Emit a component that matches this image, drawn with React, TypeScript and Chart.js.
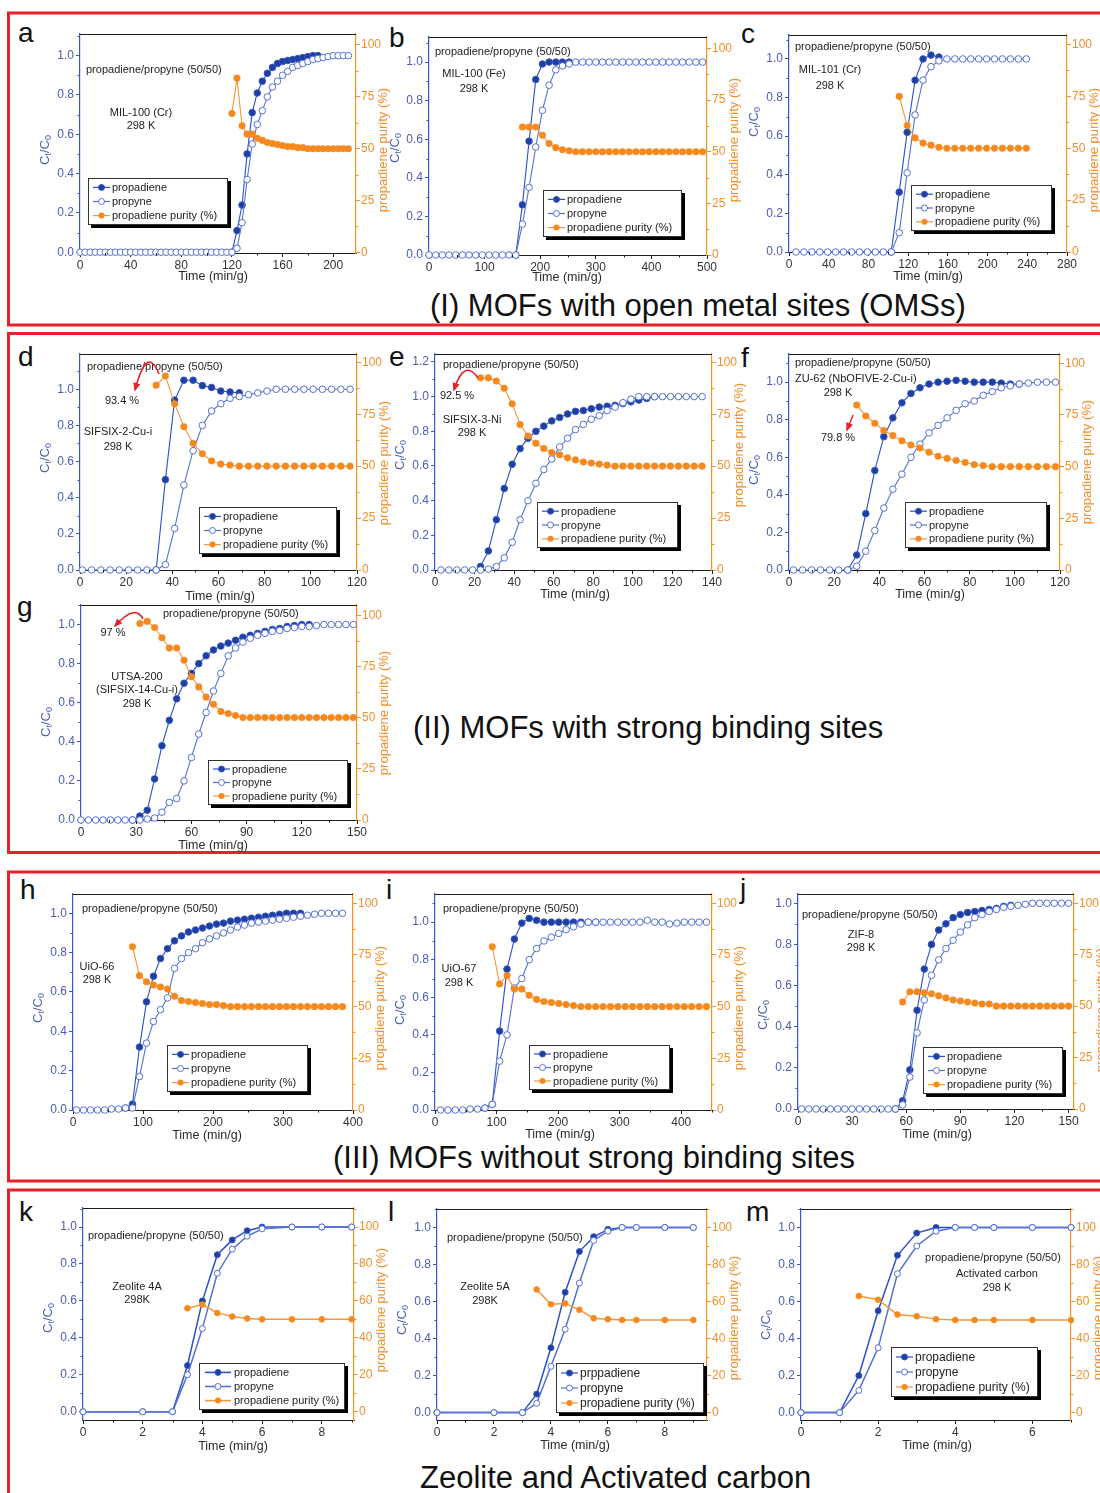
import React, { useEffect, useRef } from "react";
import { Chart, registerables } from "chart.js";

Chart.register(...registerables);

const FONT = "'Liberation Sans', Arial, Helvetica, sans-serif";

// ---------- tick labels ----------
const fracTicks = [0, 0.2, 0.4, 0.6, 0.8, 1.0];
const fracTicksWide = [0, 0.2, 0.4, 0.6, 0.8, 1.0, 1.2];
const purityTicks = [0, 25, 50, 75, 100];
const purityTicksZeolite = [0, 20, 40, 60, 80, 100];
const aXTicks = [0, 40, 80, 120, 160, 200];
const bXTicks = [0, 100, 200, 300, 400, 500];
const cXTicks = [0, 40, 80, 120, 160, 200, 240, 280];
const dXTicks = [0, 20, 40, 60, 80, 100, 120];
const eXTicks = [0, 20, 40, 60, 80, 100, 120, 140];
const fXTicks = [0, 20, 40, 60, 80, 100, 120];
const gXTicks = [0, 30, 60, 90, 120, 150];
const hXTicks = [0, 100, 200, 300, 400];
const iXTicks = [0, 100, 200, 300, 400];
const jXTicks = [0, 30, 60, 90, 120, 150];
const kXTicks = [0, 2, 4, 6, 8];
const lXTicks = [0, 2, 4, 6, 8];
const mXTicks = [0, 2, 4, 6];

const seriesNames = ["propadiene", "propyne", "propadiene purity (%)"];
const seriesNamesZeolite5A = ["prppadiene", "propyne", "propadiene purity (%)"];

// ---------- (a) MIL-100 (Cr) ----------
const aTime = [0, 4, 8, 12, 16, 20, 24, 28, 32, 36, 40, 44, 48, 52, 56, 60, 64, 68, 72, 76, 80, 84, 88, 92, 96, 100, 104, 108, 112, 116, 120, 124, 128, 132, 136, 140, 144, 148, 152, 156, 160, 164, 168, 172, 176, 180, 184, 188, 192, 196, 200, 204, 208, 212];
const aPropyne = [0, 0, 0, 0, 0, 0, 0, 0, 0, 0, 0, 0, 0, 0, 0, 0, 0, 0, 0, 0, 0, 0, 0, 0, 0, 0, 0, 0, 0, 0, 0, 0.02, 0.15, 0.37, 0.55, 0.65, 0.72, 0.79, 0.84, 0.87, 0.9, 0.92, 0.94, 0.95, 0.96, 0.97, 0.98, 0.985, 0.99, 0.995, 1.0, 1.0, 1.0, 1.0];
const aPropadieneTime = [120, 124, 128, 132, 136, 140, 144, 148, 152, 156, 160, 164, 168, 172, 176, 180, 184, 188];
const aPropadiene = [0, 0.11, 0.24, 0.5, 0.71, 0.81, 0.87, 0.91, 0.94, 0.96, 0.97, 0.975, 0.98, 0.985, 0.99, 0.995, 1.0, 1.0];
const aPurityTime = [120, 124, 128, 132, 136, 140, 144, 148, 152, 156, 160, 164, 168, 172, 176, 180, 184, 188, 192, 196, 200, 204, 208, 212];
const aPurity = [67, 84, 61, 57, 57, 55, 54, 53, 52.5, 52, 51.5, 51, 51, 50.5, 50.5, 50, 50, 50, 50, 50, 50, 50, 50, 50];

// ---------- (b) MIL-100 (Fe) ----------
const bTime = [0, 12, 24, 36, 48, 60, 72, 84, 96, 108, 120, 132, 144, 156, 168, 180, 192, 204, 216, 228, 240, 252, 264, 276, 288, 300, 312, 324, 336, 348, 360, 372, 384, 396, 408, 420, 432, 444, 456, 468, 480, 492];
const bPropyne = [0, 0, 0, 0, 0, 0, 0, 0, 0, 0, 0, 0, 0, 0, 0.16, 0.35, 0.56, 0.75, 0.88, 0.96, 0.98, 0.99, 1, 1, 1, 1, 1, 1, 1, 1, 1, 1, 1, 1, 1, 1, 1, 1, 1, 1, 1, 1];
const bPropadieneTime = [156, 168, 180, 192, 204, 216, 228, 240, 252];
const bPropadiene = [0, 0.26, 0.59, 0.91, 0.99, 1.0, 1.0, 1.0, 1.0];
const bPurityTime = [168, 180, 192, 204, 216, 228, 240, 252, 264, 276, 288, 300, 312, 324, 336, 348, 360, 372, 384, 396, 408, 420, 432, 444, 456, 468, 480, 492];
const bPurity = [62, 62, 62, 58, 54, 52, 51, 50.5, 50, 50, 50, 50, 50, 50, 50, 50, 50, 50, 50, 50, 50, 50, 50, 50, 50, 50, 50, 50];

// ---------- (c) MIL-101 (Cr) ----------
const cTime = [7, 15, 23, 31, 39, 47, 55, 63, 71, 79, 87, 95, 103, 111, 119, 127, 135, 143, 151, 159, 167, 175, 183, 191, 199, 207, 215, 223, 231, 239];
const cPropyne = [0, 0, 0, 0, 0, 0, 0, 0, 0, 0, 0, 0, 0, 0.1, 0.41, 0.71, 0.89, 0.96, 0.99, 1, 1, 1, 1, 1, 1, 1, 1, 1, 1, 1];
const cPropadieneTime = [103, 111, 119, 127, 135, 143, 151];
const cPropadiene = [0, 0.31, 0.62, 0.89, 1.0, 1.02, 1.01];
const cPurityTime = [111, 119, 127, 135, 143, 151, 159, 167, 175, 183, 191, 199, 207, 215, 223, 231, 239];
const cPurity = [75, 61, 55, 52.5, 51.5, 50.5, 50, 50, 50, 50, 50, 50, 50, 50, 50, 50, 50];

// ---------- (d) SIFSIX-2-Cu-i ----------
const dTime = [1, 5, 9, 13, 17, 21, 25, 29, 33, 37, 41, 45, 49, 53, 57, 61, 65, 69, 73, 77, 81, 85, 89, 93, 97, 101, 105, 109, 113, 117];
const dPropyne = [0, 0, 0, 0, 0, 0, 0, 0, 0, 0.03, 0.23, 0.47, 0.66, 0.8, 0.88, 0.92, 0.95, 0.96, 0.97, 0.98, 0.99, 1, 1, 1, 1, 1, 1, 1, 1, 1];
const dPropadieneTime = [33, 37, 41, 45, 49, 53, 57, 61, 65, 69];
const dPropadiene = [0, 0.5, 0.94, 1.05, 1.05, 1.02, 1.01, 0.99, 0.985, 0.98];
const dPurityTime = [33, 37, 41, 45, 49, 53, 57, 61, 65, 69, 73, 77, 81, 85, 89, 93, 97, 101, 105, 109, 113, 117];
const dPurity = [89, 93.4, 80, 69, 61, 56, 52.5, 51, 50.5, 50, 50, 50, 50, 50, 50, 50, 50, 50, 50, 50, 50, 50];

// ---------- (e) SIFSIX-3-Ni ----------
const eTime = [3, 7, 11, 15, 19, 23, 27, 31, 35, 39, 43, 47, 51, 55, 59, 63, 67, 71, 75, 79, 83, 87, 91, 95, 99, 103, 107, 111, 115, 119, 123, 127, 131, 135];
const ePropyne = [0, 0, 0, 0, 0, 0, 0.005, 0.02, 0.07, 0.16, 0.29, 0.4, 0.5, 0.58, 0.64, 0.71, 0.76, 0.81, 0.84, 0.87, 0.89, 0.92, 0.94, 0.965, 0.985, 1, 1, 1, 1, 1, 1, 1, 1, 1];
const ePropadieneTime = [23, 27, 31, 35, 39, 43, 47, 51, 55, 59, 63, 67, 71, 75, 79, 83, 87, 91, 95, 99, 103, 107, 111];
const ePropadiene = [0.02, 0.11, 0.29, 0.47, 0.61, 0.7, 0.76, 0.8, 0.83, 0.86, 0.88, 0.9, 0.915, 0.92, 0.93, 0.94, 0.945, 0.95, 0.96, 0.97, 0.98, 0.99, 1.0];
const ePurityTime = [23, 27, 31, 35, 39, 43, 47, 51, 55, 59, 63, 67, 71, 75, 79, 83, 87, 91, 95, 99, 103, 107, 111, 115, 119, 123, 127, 131, 135];
const ePurity = [92.5, 92.5, 91, 87.5, 80, 70, 64.5, 61, 58.5, 56.5, 55.5, 54, 53, 52, 51.5, 51, 50.5, 50, 50, 50, 50, 50, 50, 50, 50, 50, 50, 50, 50];

// ---------- (f) ZU-62 ----------
const fTime = [2, 6, 10, 14, 18, 22, 26, 30, 34, 38, 42, 46, 50, 54, 58, 62, 66, 70, 74, 78, 82, 86, 90, 94, 98, 102, 106, 110, 114, 118];
const fPropyne = [0, 0, 0, 0, 0, 0, 0, 0.02, 0.1, 0.21, 0.33, 0.43, 0.51, 0.6, 0.67, 0.73, 0.77, 0.81, 0.85, 0.885, 0.9, 0.93, 0.95, 0.97, 0.98, 0.99, 0.995, 1, 1, 1];
const fPropadieneTime = [26, 30, 34, 38, 42, 46, 50, 54, 58, 62, 66, 70, 74, 78, 82, 86, 90, 94, 98, 102];
const fPropadiene = [0, 0.08, 0.3, 0.53, 0.71, 0.81, 0.89, 0.94, 0.97, 0.99, 1.0, 1.005, 1.01, 1.005, 1.0, 1.0, 1.0, 0.995, 0.99, 0.99];
const fPurityTime = [30, 34, 38, 42, 46, 50, 54, 58, 62, 66, 70, 74, 78, 82, 86, 90, 94, 98, 102, 106, 110, 114, 118];
const fPurity = [79.8, 74.5, 71, 67.5, 65, 62.5, 60.5, 59, 57, 55, 54, 53, 52, 51, 50.5, 50, 50, 50, 50, 50, 50, 50, 50];

// ---------- (g) UTSA-200 ----------
const gTime = [0, 4, 8, 12, 16, 20, 24, 28, 32, 36, 40, 44, 48, 52, 56, 60, 64, 68, 72, 76, 80, 84, 88, 92, 96, 100, 104, 108, 112, 116, 120, 124, 128, 132, 136, 140, 144, 148];
const gPropyne = [0, 0, 0, 0, 0, 0, 0, 0, 0, 0.005, 0.01, 0.04, 0.09, 0.11, 0.2, 0.32, 0.44, 0.55, 0.66, 0.75, 0.84, 0.88, 0.91, 0.93, 0.945, 0.955, 0.965, 0.97, 0.98, 0.985, 0.99, 0.99, 0.995, 1, 1, 1, 1, 1];
const gPropadieneTime = [28, 32, 36, 40, 44, 48, 52, 56, 60, 64, 68, 72, 76, 80, 84, 88, 92, 96, 100, 104, 108, 112, 116, 120, 124];
const gPropadiene = [0, 0.02, 0.05, 0.21, 0.38, 0.51, 0.62, 0.7, 0.75, 0.8, 0.84, 0.87, 0.89, 0.905, 0.92, 0.935, 0.945, 0.955, 0.965, 0.975, 0.98, 0.99, 0.995, 1.0, 1.0];
const gPurityTime = [32, 36, 40, 44, 48, 52, 56, 60, 64, 68, 72, 76, 80, 84, 88, 92, 96, 100, 104, 108, 112, 116, 120, 124, 128, 132, 136, 140, 144, 148];
const gPurity = [96, 97, 94, 89, 84, 84, 78, 70, 65, 60, 56.5, 53, 52, 51, 50, 50, 50, 50, 50, 50, 50, 50, 50, 50, 50, 50, 50, 50, 50, 50];

// ---------- (h) UiO-66 ----------
const hTime = [5, 15, 25, 35, 45, 55, 65, 75, 85, 95, 105, 115, 125, 135, 145, 155, 165, 175, 185, 195, 205, 215, 225, 235, 245, 255, 265, 275, 285, 295, 305, 315, 325, 335, 345, 355, 365, 375, 385];
const hPropyne = [0, 0, 0, 0, 0, 0.005, 0.005, 0.01, 0.01, 0.17, 0.34, 0.45, 0.51, 0.57, 0.72, 0.77, 0.8, 0.82, 0.85, 0.87, 0.885, 0.9, 0.915, 0.93, 0.94, 0.95, 0.955, 0.96, 0.965, 0.97, 0.975, 0.98, 0.985, 0.99, 0.995, 1, 1, 1, 1];
const hPropadieneTime = [75, 85, 95, 105, 115, 125, 135, 145, 155, 165, 175, 185, 195, 205, 215, 225, 235, 245, 255, 265, 275, 285, 295, 305, 315, 325];
const hPropadiene = [0.01, 0.03, 0.32, 0.55, 0.68, 0.77, 0.82, 0.86, 0.885, 0.905, 0.915, 0.925, 0.935, 0.945, 0.95, 0.96, 0.965, 0.97, 0.975, 0.98, 0.985, 0.99, 0.995, 1.0, 1.0, 1.0];
const hPurityTime = [85, 95, 105, 115, 125, 135, 145, 155, 165, 175, 185, 195, 205, 215, 225, 235, 245, 255, 265, 275, 285, 295, 305, 315, 325, 335, 345, 355, 365, 375, 385];
const hPurity = [79, 65, 62, 60.5, 59.5, 58.5, 55, 53, 52.5, 52, 51.5, 51, 51, 50.5, 50, 50, 50, 50, 50, 50, 50, 50, 50, 50, 50, 50, 50, 50, 50, 50, 50];

// ---------- (i) UiO-67 ----------
const iTime = [9, 21, 33, 45, 57, 69, 81, 93, 105, 117, 129, 141, 153, 165, 177, 189, 201, 213, 225, 237, 249, 261, 273, 285, 297, 309, 321, 333, 345, 357, 369, 381, 393, 405, 417, 429, 441];
const iPropyne = [0, 0, 0, 0, 0.005, 0.005, 0.01, 0.03, 0.26, 0.4, 0.65, 0.7, 0.8, 0.86, 0.9, 0.92, 0.94, 0.96, 0.975, 0.99, 1, 1, 1, 1, 1, 1, 1, 1, 1.01, 1, 1, 0.99, 0.995, 1, 1, 1, 1];
const iPropadieneTime = [81, 93, 105, 117, 129, 141, 153, 165, 177, 189, 201, 213, 225, 237, 249, 261];
const iPropadiene = [0.01, 0.03, 0.42, 0.75, 0.91, 0.995, 1.02, 1.01, 1.0, 1.0, 1.0, 1.0, 1.0, 1.0, 1.0, 1.0];
const iPurityTime = [93, 105, 117, 129, 141, 153, 165, 177, 189, 201, 213, 225, 237, 249, 261, 273, 285, 297, 309, 321, 333, 345, 357, 369, 381, 393, 405, 417, 429, 441];
const iPurity = [79, 61, 65, 58.5, 58.5, 55.5, 53.5, 52.5, 52, 51.5, 51, 50.5, 50, 50, 50, 50, 50, 50, 50, 50, 50, 50, 50, 50, 50, 50, 50, 50, 50, 50];

// ---------- (j) ZIF-8 ----------
const jTime = [2, 6, 10, 14, 18, 22, 26, 30, 34, 38, 42, 46, 50, 54, 58, 62, 66, 70, 74, 78, 82, 86, 90, 94, 98, 102, 106, 110, 114, 118, 122, 126, 130, 134, 138, 142, 146, 150];
const jPropyne = [0, 0, 0, 0, 0, 0, 0, 0, 0, 0, 0, 0, 0, 0, 0.02, 0.155, 0.37, 0.53, 0.65, 0.725, 0.78, 0.82, 0.86, 0.895, 0.93, 0.945, 0.96, 0.97, 0.98, 0.985, 0.99, 0.995, 1, 1, 1, 1, 1, 1];
const jPropadieneTime = [54, 58, 62, 66, 70, 74, 78, 82, 86, 90, 94, 98, 102, 106, 110, 114, 118];
const jPropadiene = [0, 0.04, 0.19, 0.48, 0.68, 0.8, 0.87, 0.9, 0.93, 0.945, 0.955, 0.96, 0.965, 0.97, 0.975, 0.985, 0.99];
const jPurityTime = [58, 62, 66, 70, 74, 78, 82, 86, 90, 94, 98, 102, 106, 110, 114, 118, 122, 126, 130, 134, 138, 142, 146, 150];
const jPurity = [52, 57, 57, 56.5, 56, 55, 54, 53, 52.5, 52, 51.5, 51, 51, 50, 50, 50, 50, 50, 50, 50, 50, 50, 50, 50];

// ---------- (k) Zeolite 4A ----------
const kTime = [0, 2, 3, 3.5, 4, 4.5, 5, 5.5, 6, 7, 8, 9];
const kPropadiene = [0, 0, 0, 0.25, 0.6, 0.85, 0.93, 0.98, 1.0, 1.0, 1.0, 1.0];
const kPropyne = [0, 0, 0, 0.2, 0.45, 0.75, 0.88, 0.95, 0.99, 1.0, 1.0, 1.0];
const kPurityTime = [3.5, 4, 4.5, 5, 5.5, 6, 7, 8, 9];
const kPurity = [56, 58, 53.5, 51.5, 50.5, 50, 50, 50, 50];

// ---------- (l) Zeolite 5A ----------
const lTime = [0, 2, 3, 3.5, 4, 4.5, 5, 5.5, 6, 6.5, 7, 8, 9];
const lPropadiene = [0, 0, 0, 0.1, 0.35, 0.65, 0.87, 0.95, 0.99, 1.0, 1.0, 1.0, 1.0];
const lPropyne = [0, 0, 0, 0.05, 0.25, 0.45, 0.7, 0.93, 0.98, 1.0, 1.0, 1.0, 1.0];
const lPurityTime = [3.5, 4, 4.5, 5, 5.5, 6, 6.5, 7, 8, 9];
const lPurity = [66.5, 58.5, 59, 55.5, 51, 50.5, 50, 50, 50, 50];

// ---------- (m) Activated carbon ----------
const mTime = [0, 1, 1.5, 2, 2.5, 3, 3.5, 4, 4.5, 5, 6, 7];
const mPropadiene = [0, 0, 0.2, 0.55, 0.85, 0.97, 1.0, 1.0, 1.0, 1.0, 1.0, 1.0];
const mPropyne = [0, 0, 0.12, 0.35, 0.75, 0.9, 0.98, 1.0, 1.0, 1.0, 1.0, 1.0];
const mPurityTime = [1.5, 2, 2.5, 3, 3.5, 4, 4.5, 5, 6, 7];
const mPurity = [63, 61, 53, 52, 50.5, 50, 50, 50, 50, 50];

// ---------- colours ----------
const PD_LINE = "#2a50cc";
const PD_FILL = "#203e9e";
const PD_EDGE = "#3558c8";
const PY_LINE = "#5571d4";
const OR_FILL = "#f5891e";
const OR_LINE = "#f3963a";
const AXIS_BLUE = "#3457d0";
const TICK_BLUE = "#4b5db2";
const AXIS_ORANGE = "#f6921e";
const TICK_ORANGE = "#f08f2c";
const AXIS_DARK = "#1e1e1e";
const RED = "#e4222b";

type Note = [string, number, number, "left" | "center"];

type Spec = {
  id: string;
  plot: number[];
  xr: number[];
  yl: number[];
  yr: number[];
  xTicks: number[];
  ylTicks: number[];
  yrTicks: number[];
  time: number[];
  propyne: number[];
  pdTime: number[];
  propadiene: number[];
  puTime: number[];
  purity: number[];
  notes: Note[];
  legend: number[];
  legendNames: string[];
  legendFont?: number;
  zeolite?: boolean;
  leftTitle: number[];
  rightTitleY: number;
  xTitle: number[];
  arrow?: number[];
  straightArrow?: number[];
};

const MIX = "propadiene/propyne (50/50)";

const panels: Spec[] = [
  {
    id: "a", plot: [80, 34, 356, 253], xr: [0, 218], yl: [-0.004, 1.11], yr: [-0.3, 105.3],
    xTicks: aXTicks, ylTicks: fracTicks, yrTicks: purityTicks,
    time: aTime, propyne: aPropyne, pdTime: aPropadieneTime, propadiene: aPropadiene, puTime: aPurityTime, purity: aPurity,
    notes: [[MIX, 86, 70, "left"], ["MIL-100 (Cr)", 141, 113, "center"], ["298 K", 141, 126, "center"]],
    legend: [88, 178, 140, 47], legendNames: seriesNames,
    leftTitle: [45, 150], rightTitleY: 150, xTitle: [213, 277],
  },
  {
    id: "b", plot: [429, 37, 707, 255], xr: [0, 500], yl: [0, 1.13], yr: [0, 105.6],
    xTicks: bXTicks, ylTicks: fracTicks, yrTicks: purityTicks,
    time: bTime, propyne: bPropyne, pdTime: bPropadieneTime, propadiene: bPropadiene, puTime: bPurityTime, purity: bPurity,
    notes: [[MIX, 435, 52, "left"], ["MIL-100 (Fe)", 474, 74, "center"], ["298 K", 474, 89, "center"]],
    legend: [543, 190, 139, 47], legendNames: seriesNames,
    leftTitle: [395, 148], rightTitleY: 140, xTitle: [567, 278],
  },
  {
    id: "c", plot: [789, 35, 1067, 252], xr: [0, 280], yl: [0, 1.124], yr: [0, 104.6],
    xTicks: cXTicks, ylTicks: fracTicks, yrTicks: purityTicks,
    time: cTime, propyne: cPropyne, pdTime: cPropadieneTime, propadiene: cPropadiene, puTime: cPurityTime, purity: cPurity,
    notes: [[MIX, 795, 47, "left"], ["MIL-101 (Cr)", 830, 70, "center"], ["298 K", 830, 86, "center"]],
    legend: [911, 185, 141, 46], legendNames: seriesNames,
    leftTitle: [754, 122], rightTitleY: 150, xTitle: [928, 277],
  },
  {
    id: "d", plot: [80, 354, 357, 570], xr: [0, 120], yl: [0, 1.195], yr: [0, 104],
    xTicks: dXTicks, ylTicks: fracTicks, yrTicks: purityTicks,
    time: dTime, propyne: dPropyne, pdTime: dPropadieneTime, propadiene: dPropadiene, puTime: dPurityTime, purity: dPurity,
    notes: [[MIX, 87, 367, "left"], ["93.4 %", 122, 401, "center"], ["SIFSIX-2-Cu-i", 118, 432, "center"], ["298 K", 118, 447, "center"]],
    legend: [199, 507, 138, 47], legendNames: seriesNames,
    leftTitle: [45, 458], rightTitleY: 463, xTitle: [220, 597],
    arrow: [159, 374, 147, 363, 135, 390],
  },
  {
    id: "e", plot: [435, 354, 712, 570], xr: [0, 140], yl: [0, 1.246], yr: [0, 104],
    xTicks: eXTicks, ylTicks: fracTicksWide, yrTicks: purityTicks,
    time: eTime, propyne: ePropyne, pdTime: ePropadieneTime, propadiene: ePropadiene, puTime: ePurityTime, purity: ePurity,
    notes: [[MIX, 443, 365, "left"], ["92.5 %", 457, 396, "center"], ["SIFSIX-3-Ni", 472, 420, "center"], ["298 K", 472, 433, "center"]],
    legend: [537, 502, 141, 46], legendNames: seriesNames,
    leftTitle: [400, 455], rightTitleY: 445, xTitle: [575, 595],
    arrow: [478, 378, 465, 371, 454, 390],
  },
  {
    id: "f", plot: [789, 354, 1060, 570], xr: [0, 120], yl: [0, 1.15], yr: [0, 104.5],
    xTicks: fXTicks, ylTicks: fracTicks, yrTicks: purityTicks,
    time: fTime, propyne: fPropyne, pdTime: fPropadieneTime, propadiene: fPropadiene, puTime: fPurityTime, purity: fPurity,
    notes: [[MIX, 795, 363, "left"], ["ZU-62 (NbOFIVE-2-Cu-i)", 795, 379, "left"], ["298 K", 838, 393, "center"], ["79.8 %", 838, 438, "center"]],
    legend: [905, 502, 142, 46], legendNames: seriesNames,
    leftTitle: [754, 470], rightTitleY: 462, xTitle: [930, 595],
    straightArrow: [853, 415, 847, 430],
  },
  {
    id: "g", plot: [81, 605, 357, 820], xr: [0, 150], yl: [0, 1.1], yr: [0, 105],
    xTicks: gXTicks, ylTicks: fracTicks, yrTicks: purityTicks,
    time: gTime, propyne: gPropyne, pdTime: gPropadieneTime, propadiene: gPropadiene, puTime: gPurityTime, purity: gPurity,
    notes: [[MIX, 163, 614, "left"], ["97 %", 113, 633, "center"], ["UTSA-200", 137, 677, "center"], ["(SIFSIX-14-Cu-i)", 137, 690, "center"], ["298 K", 137, 704, "center"]],
    legend: [208, 760, 140, 45], legendNames: seriesNames,
    leftTitle: [46, 722], rightTitleY: 713, xTitle: [213, 846],
    arrow: [143, 619, 132, 613, 115, 626],
  },
  {
    id: "h", plot: [73, 894, 353, 1110], xr: [0, 400], yl: [0, 1.098], yr: [0, 104.5],
    xTicks: hXTicks, ylTicks: fracTicks, yrTicks: purityTicks,
    time: hTime, propyne: hPropyne, pdTime: hPropadieneTime, propadiene: hPropadiene, puTime: hPurityTime, purity: hPurity,
    notes: [[MIX, 82, 909, "left"], ["UiO-66", 97, 967, "center"], ["298 K", 97, 980, "center"]],
    legend: [167, 1045, 141, 47], legendNames: seriesNames,
    leftTitle: [38, 1008], rightTitleY: 1008, xTitle: [207, 1136],
  },
  {
    id: "i", plot: [435, 894, 712, 1110], xr: [0, 450], yl: [0, 1.15], yr: [0, 104.5],
    xTicks: iXTicks, ylTicks: fracTicks, yrTicks: purityTicks,
    time: iTime, propyne: iPropyne, pdTime: iPropadieneTime, propadiene: iPropadiene, puTime: iPurityTime, purity: iPurity,
    notes: [[MIX, 443, 909, "left"], ["UiO-67", 459, 969, "center"], ["298 K", 459, 983, "center"]],
    legend: [529, 1045, 141, 45], legendNames: seriesNames,
    leftTitle: [400, 1010], rightTitleY: 1008, xTitle: [560, 1135],
  },
  {
    id: "j", plot: [798, 894, 1074, 1109], xr: [0, 153], yl: [0, 1.045], yr: [0, 104.5],
    xTicks: jXTicks, ylTicks: fracTicks, yrTicks: purityTicks,
    time: jTime, propyne: jPropyne, pdTime: jPropadieneTime, propadiene: jPropadiene, puTime: jPurityTime, purity: jPurity,
    notes: [[MIX, 802, 915, "left"], ["ZIF-8", 861, 935, "center"], ["298 K", 861, 948, "center"]],
    legend: [923, 1047, 140, 47], legendNames: seriesNames,
    leftTitle: [763, 1015], rightTitleY: 1010, xTitle: [937, 1135],
  },
  {
    id: "k", plot: [83, 1208, 354, 1420], xr: [0, 9.08], yl: [-0.045, 1.103], yr: [-4.5, 110.3],
    xTicks: kXTicks, ylTicks: fracTicks, yrTicks: purityTicksZeolite,
    time: kTime, propyne: kPropyne, pdTime: kTime, propadiene: kPropadiene, puTime: kPurityTime, purity: kPurity,
    notes: [[MIX, 88, 1236, "left"], ["Zeolite 4A", 137, 1287, "center"], ["298K", 137, 1300, "center"]],
    legend: [199, 1363, 146, 47], legendNames: seriesNames, zeolite: true,
    leftTitle: [48, 1318], rightTitleY: 1310, xTitle: [233, 1447],
  },
  {
    id: "l", plot: [437, 1209, 707, 1420], xr: [0, 9.48], yl: [-0.04, 1.1], yr: [-4, 110],
    xTicks: lXTicks, ylTicks: fracTicks, yrTicks: purityTicksZeolite,
    time: lTime, propyne: lPropyne, pdTime: lTime, propadiene: lPropadiene, puTime: lPurityTime, purity: lPurity,
    notes: [[MIX, 447, 1238, "left"], ["Zeolite 5A", 485, 1287, "center"], ["298K", 485, 1301, "center"]],
    legend: [556, 1363, 148, 50], legendNames: seriesNamesZeolite5A, legendFont: 12,
    leftTitle: [402, 1320], rightTitleY: 1318, xTitle: [575, 1446],
  },
  {
    id: "m", plot: [801, 1209, 1071, 1420], xr: [0, 7], yl: [-0.04, 1.1], yr: [-4, 110],
    xTicks: mXTicks, ylTicks: fracTicks, yrTicks: purityTicksZeolite,
    time: mTime, propyne: mPropyne, pdTime: mTime, propadiene: mPropadiene, puTime: mPurityTime, purity: mPurity,
    notes: [[MIX, 993, 1258, "center"], ["Activated carbon", 997, 1274, "center"], ["298 K", 997, 1288, "center"]],
    legend: [891, 1347, 147, 50], legendNames: seriesNames, legendFont: 12,
    leftTitle: [766, 1325], rightTitleY: 1318, xTitle: [937, 1446],
  },
];

// ---------- page decoration ----------
const sectionBoxes = [
  [13, 325],
  [333.5, 852.5],
  [872, 1181],
  [1190, 1520],
];
const panelLetters: [string, number, number][] = [
  ["a", 18, 42], ["b", 389, 47], ["c", 741, 43],
  ["d", 18, 366], ["e", 389, 366], ["f", 741, 367],
  ["g", 17, 616],
  ["h", 20, 899], ["i", 386, 899], ["j", 740, 898],
  ["k", 19, 1221], ["l", 388, 1221], ["m", 746, 1221],
];
const sectionTitles: [string, number, number][] = [
  ["(I) MOFs with open metal sites (OMSs)", 430, 316],
  ["(II) MOFs with strong binding sites", 413, 738],
  ["(III) MOFs without strong binding sites", 333, 1168],
  ["Zeolite and Activated carbon", 420, 1488],
];

// minor tick positions halfway between labelled ticks
function minorTicks(ticks: number[], range: number[]) {
  const step = ticks[1] - ticks[0];
  const out: number[] = [];
  for (let v = ticks[0] - step / 2; v <= range[1] + 1e-9; v += step) {
    if (v >= range[0] - 1e-9) out.push(v);
  }
  return out;
}

function drawMarker(ctx: CanvasRenderingContext2D, kind: number, x: number, y: number, r: number) {
  ctx.beginPath();
  ctx.arc(x, y, r, 0, Math.PI * 2);
  if (kind === 0) {
    ctx.fillStyle = PD_FILL;
    ctx.fill();
    ctx.strokeStyle = PD_EDGE;
    ctx.lineWidth = 1;
    ctx.stroke();
  } else if (kind === 1) {
    ctx.fillStyle = "#fff";
    ctx.fill();
    ctx.strokeStyle = PY_LINE;
    ctx.lineWidth = 1;
    ctx.stroke();
  } else {
    ctx.fillStyle = OR_FILL;
    ctx.fill();
  }
}

function drawArrowHead(ctx: CanvasRenderingContext2D, x: number, y: number, dx: number, dy: number) {
  const a = Math.atan2(dy, dx);
  const len = 7, half = 3.6;
  const bx = x - Math.cos(a) * len, by = y - Math.sin(a) * len;
  ctx.beginPath();
  ctx.moveTo(x + Math.cos(a) * 1.5, y + Math.sin(a) * 1.5);
  ctx.lineTo(bx - Math.sin(a) * half, by + Math.cos(a) * half);
  ctx.lineTo(bx + Math.sin(a) * half, by - Math.cos(a) * half);
  ctx.closePath();
  ctx.fillStyle = RED;
  ctx.fill();
}

function decoPlugin(s: Spec, ox: number, oy: number) {
  return {
    id: "deco" + s.id,
    afterDraw(chart: any) {
      const ctx: CanvasRenderingContext2D = chart.ctx;
      const ca = chart.chartArea;
      const xs = chart.scales.x, yl = chart.scales.y, yr = chart.scales.y1;
      const seg = (c: string, x1: number, y1: number, x2: number, y2: number) => {
        ctx.strokeStyle = c;
        ctx.lineWidth = 1;
        ctx.beginPath();
        ctx.moveTo(x1, y1);
        ctx.lineTo(x2, y2);
        ctx.stroke();
      };
      ctx.save();
      // top frame
      const ty = Math.round(ca.top) + 0.5;
      seg(AXIS_DARK, ca.left, ty, ca.right, ty);
      // minor ticks
      minorTicks(s.xTicks, s.xr).forEach((v) => {
        const p = Math.round(xs.getPixelForValue(v)) + 0.5;
        seg(AXIS_DARK, p, ca.bottom, p, ca.bottom + 2.5);
      });
      minorTicks(s.ylTicks, s.yl).forEach((v) => {
        const p = Math.round(yl.getPixelForValue(v)) + 0.5;
        seg(AXIS_BLUE, ca.left - 2.5, p, ca.left, p);
      });
      minorTicks(s.yrTicks, s.yr).forEach((v) => {
        const p = Math.round(yr.getPixelForValue(v)) + 0.5;
        seg(AXIS_ORANGE, ca.right, p, ca.right + 2.5, p);
      });

      // everything below uses page coordinates
      ctx.translate(-ox, -oy);

      // notes inside the plot
      ctx.fillStyle = "#222";
      ctx.font = `11px ${FONT}`;
      ctx.textBaseline = "middle";
      s.notes.forEach(([t, x, y, al]) => {
        ctx.textAlign = al;
        ctx.fillText(t, x, y);
      });

      // axis titles
      ctx.textAlign = "center";
      ctx.fillStyle = "#2a2a2a";
      ctx.font = `12.5px ${FONT}`;
      ctx.fillText("Time (min/g)", s.xTitle[0], s.xTitle[1]);

      // C_t/C_0
      ctx.save();
      ctx.translate(s.leftTitle[0], s.leftTitle[1]);
      ctx.rotate(-Math.PI / 2);
      const parts: [string, number, number][] = [["C", 13, 0], ["t", 9, 3.5], ["/C", 13, 0], ["0", 9, 3.5]];
      let total = 0;
      parts.forEach(([t, fs]) => { ctx.font = `${fs}px ${FONT}`; total += ctx.measureText(t).width; });
      let cx = -total / 2;
      ctx.fillStyle = TICK_BLUE;
      ctx.textAlign = "left";
      parts.forEach(([t, fs, dy]) => {
        ctx.font = `${fs}px ${FONT}`;
        ctx.fillText(t, cx, dy);
        cx += ctx.measureText(t).width;
      });
      ctx.restore();

      // right title
      ctx.save();
      ctx.translate(s.plot[2] + 27, s.rightTitleY);
      ctx.rotate(-Math.PI / 2);
      ctx.fillStyle = TICK_ORANGE;
      ctx.font = `13px ${FONT}`;
      ctx.textAlign = "center";
      ctx.fillText("propadiene purity (%)", 0, 0);
      ctx.restore();

      // red arrows
      if (s.arrow) {
        const [sx, sy, px, py, ex, ey] = s.arrow;
        const qx = 2 * px - (sx + ex) / 2, qy = 2 * py - (sy + ey) / 2;
        ctx.strokeStyle = RED;
        ctx.lineWidth = 1.6;
        ctx.beginPath();
        ctx.moveTo(sx, sy);
        ctx.quadraticCurveTo(qx, qy, ex, ey);
        ctx.stroke();
        drawArrowHead(ctx, ex, ey, ex - qx, ey - qy);
      }
      if (s.straightArrow) {
        const [sx, sy, ex, ey] = s.straightArrow;
        ctx.strokeStyle = RED;
        ctx.lineWidth = 1.4;
        ctx.beginPath();
        ctx.moveTo(sx, sy);
        ctx.lineTo(ex, ey);
        ctx.stroke();
        drawArrowHead(ctx, ex, ey, ex - sx, ey - sy);
      }

      // legend with drop shadow
      const [lx, ly, lw, lh] = s.legend;
      ctx.fillStyle = "#000";
      ctx.fillRect(lx + 3, ly + 3, lw, lh);
      ctx.fillStyle = "#fff";
      ctx.fillRect(lx, ly, lw, lh);
      ctx.strokeStyle = "#333";
      ctx.lineWidth = 1;
      ctx.strokeRect(lx + 0.5, ly + 0.5, lw - 1, lh - 1);
      const z = !!s.zeolite;
      const fs = s.legendFont || 11;
      const lineCols = [PD_LINE, PY_LINE, OR_LINE];
      for (let i = 0; i < 3; i++) {
        const ry = ly + lh * (0.2 + 0.3 * i);
        const x0 = lx + (z ? 6 : 5), x1 = lx + (z ? 32 : 22), mx = lx + (z ? 19 : 13.5);
        ctx.strokeStyle = lineCols[i];
        ctx.lineWidth = z ? 1.6 : 1.2;
        ctx.beginPath();
        ctx.moveTo(x0, ry);
        ctx.lineTo(x1, ry);
        ctx.stroke();
        drawMarker(ctx, i, mx, ry, 3);
        ctx.fillStyle = "#222";
        ctx.font = `${fs}px ${FONT}`;
        ctx.textAlign = "left";
        ctx.textBaseline = "middle";
        ctx.fillText(s.legendNames[i], lx + (z ? 35 : 24), ry + 0.5);
      }
      ctx.restore();
    },
  };
}

function buildConfig(s: Spec, ox: number, oy: number, w: number, h: number): any {
  const [L, T, R, B] = s.plot;
  const z = !!s.zeolite || s.id === "l" || s.id === "m";
  const r = z ? 3 : 3.3;
  const lw = z ? 1.5 : 1.1;
  const pts = (xs: number[], ys: number[]) => xs.map((x, i) => ({ x, y: ys[i] }));
  const tickFont = { family: FONT, size: 12 };
  const fixed = (vals: number[]) => (sc: any) => {
    sc.ticks = vals.map((v) => ({ value: v }));
  };
  return {
    type: "line",
    data: {
      datasets: [
        {
          label: s.legendNames[2], data: pts(s.puTime, s.purity), yAxisID: "y1", order: 0,
          borderColor: OR_LINE, borderWidth: lw, pointRadius: r, pointBackgroundColor: OR_FILL,
          pointBorderColor: OR_FILL, pointBorderWidth: 0.5, clip: false, tension: 0,
        },
        {
          label: s.legendNames[1], data: pts(s.time, s.propyne), yAxisID: "y", order: 1,
          borderColor: PY_LINE, borderWidth: lw, pointRadius: r, pointBackgroundColor: "#ffffff",
          pointBorderColor: PY_LINE, pointBorderWidth: 1, clip: false, tension: 0,
        },
        {
          label: s.legendNames[0], data: pts(s.pdTime, s.propadiene), yAxisID: "y", order: 2,
          borderColor: PD_LINE, borderWidth: lw, pointRadius: r, pointBackgroundColor: PD_FILL,
          pointBorderColor: PD_EDGE, pointBorderWidth: 1, clip: false, tension: 0,
        },
      ],
    },
    options: {
      animation: false,
      responsive: false,
      devicePixelRatio: 1,
      events: [],
      layout: { padding: { top: T - oy, left: 0, right: 0, bottom: 0 } },
      plugins: { legend: { display: false }, tooltip: { enabled: false }, title: { display: false } },
      scales: {
        x: {
          type: "linear", min: s.xr[0], max: s.xr[1],
          afterBuildTicks: fixed(s.xTicks),
          afterFit: (sc: any) => { sc.height = oy + h - B; },
          ticks: { autoSkip: false, maxRotation: 0, color: "#333", font: tickFont, padding: 1, callback: (v: any) => String(v) },
          grid: { drawOnChartArea: false, drawTicks: true, tickLength: 4, color: AXIS_DARK },
          border: { display: true, color: AXIS_DARK, width: 1 },
        },
        y: {
          type: "linear", position: "left", min: s.yl[0], max: s.yl[1],
          afterBuildTicks: fixed(s.ylTicks),
          afterFit: (sc: any) => { sc.width = L - ox; },
          ticks: { autoSkip: false, color: TICK_BLUE, font: tickFont, padding: 2, callback: (v: any) => Number(v).toFixed(1) },
          grid: { drawOnChartArea: false, drawTicks: true, tickLength: 4, color: AXIS_BLUE },
          border: { display: true, color: AXIS_BLUE, width: 1.2 },
        },
        y1: {
          type: "linear", position: "right", min: s.yr[0], max: s.yr[1],
          afterBuildTicks: fixed(s.yrTicks),
          afterFit: (sc: any) => { sc.width = ox + w - R; },
          ticks: { autoSkip: false, color: TICK_ORANGE, font: tickFont, padding: 1, callback: (v: any) => String(v) },
          grid: { drawOnChartArea: false, drawTicks: true, tickLength: 4, color: AXIS_ORANGE },
          border: { display: true, color: AXIS_ORANGE, width: 1.2 },
        },
      },
    },
    plugins: [decoPlugin(s, ox, oy)],
  };
}

function PanelChart({ s }: { s: Spec }) {
  const ref = useRef<HTMLCanvasElement>(null);
  const [L, T, R, B] = s.plot;
  const ox = L - 54, oy = T - 32;
  const w = R + 46 - ox, h = B + 42 - oy;
  useEffect(() => {
    if (!ref.current) return;
    const chart = new Chart(ref.current, buildConfig(s, ox, oy, w, h));
    return () => chart.destroy();
  }, []);
  return (
    <canvas
      ref={ref}
      width={w}
      height={h}
      style={{ position: "absolute", left: ox, top: oy, width: w, height: h }}
    />
  );
}

export default function App() {
  return (
    <div
      style={{
        position: "absolute", left: 0, top: 0, width: 1100, height: 1493,
        overflow: "hidden", background: "#fff", fontFamily: FONT,
      }}
    >
      <svg width={1100} height={1493} style={{ position: "absolute", left: 0, top: 0 }}>
        {sectionBoxes.map(([y0, y1], i) => (
          <rect key={i} x={8.5} y={y0} width={1110} height={y1 - y0} fill="none" stroke={RED} strokeWidth={3} />
        ))}
        {panelLetters.map(([t, x, y]) => (
          <text key={t} x={x} y={y} fontSize={28} fontFamily={FONT} fill="#111">{t}</text>
        ))}
        {sectionTitles.map(([t, x, y]) => (
          <text key={t} x={x} y={y} fontSize={31} fontFamily={FONT} fill="#111">{t}</text>
        ))}
      </svg>
      {panels.map((s) => (
        <PanelChart key={s.id} s={s} />
      ))}
    </div>
  );
}
